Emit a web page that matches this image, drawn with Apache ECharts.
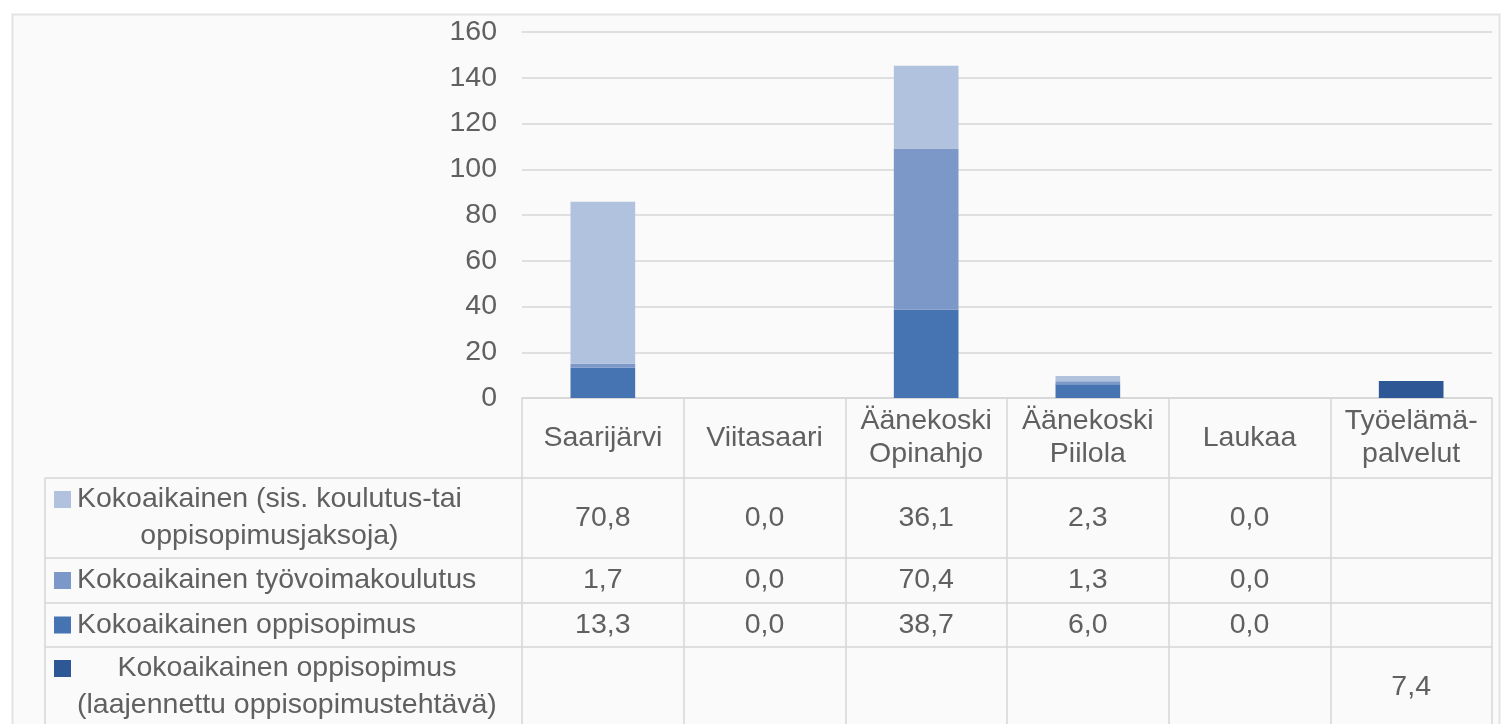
<!DOCTYPE html>
<html>
<head>
<meta charset="utf-8">
<script src="https://cdn.jsdelivr.net/npm/echarts@6/dist/echarts.min.js"></script>
<style>
html,body{margin:0;padding:0;background:#ffffff;}
#chart{width:1504px;height:724px;}
</style>
</head>
<body>
<div id="chart"></div>
<script>
// ---- data ----
const categories = ['Saarijärvi', 'Viitasaari', 'Äänekoski\nOpinahjo', 'Äänekoski\nPiilola', 'Laukaa', 'Työelämä-\npalvelut'];
const rowNames = [
  'Kokoaikainen (sis. koulutus-tai\noppisopimusjaksoja)',
  'Kokoaikainen työvoimakoulutus',
  'Kokoaikainen oppisopimus',
  'Kokoaikainen oppisopimus\n(laajennettu oppisopimustehtävä)'
];
const sisJaksoja   = [70.8, 0.0, 36.1, 2.3, 0.0, null];
const tyovoima     = [1.7, 0.0, 70.4, 1.3, 0.0, null];
const oppisopimus  = [13.3, 0.0, 38.7, 6.0, 0.0, null];
const laajennettu  = [null, null, null, null, null, 7.4];
const yMin = 0, yMax = 160, yStep = 20;

// ---- styling ----
const FONT = '"Liberation Sans", Arial, sans-serif';
const FS = 28.5;
const TXT = '#606060';
const LINE = '#d6d6d6';
const colors = { sis: '#b1c2de', tyo: '#7c98c8', opp: '#4674b2', laaj: '#2e5895' };

const chart = echarts.init(document.getElementById('chart'));

const seriesBase = {
  type: 'bar', stack: 'total', barWidth: '40%', animation: false
};

chart.setOption({
  backgroundColor: '#ffffff',
  animation: false,
  grid: { left: 522, right: 12, top: 32, bottom: 326, containLabel: false },
  xAxis: {
    type: 'category',
    data: categories,
    axisLine: { show: true, lineStyle: { color: LINE, width: 1.5 } },
    axisTick: { show: true, alignWithLabel: false, interval: 0, length: 340, lineStyle: { color: LINE, width: 1.5 } },
    axisLabel: {
      interval: 0, margin: 40, verticalAlign: 'middle',
      fontFamily: FONT, fontSize: FS, color: TXT, lineHeight: 33, align: 'center'
    },
    splitLine: { show: false }
  },
  yAxis: {
    type: 'value', min: yMin, max: yMax, interval: yStep,
    axisLine: { show: false }, axisTick: { show: false },
    axisLabel: { margin: 25, fontFamily: FONT, fontSize: FS, color: TXT },
    splitLine: { lineStyle: { color: LINE, width: 1.5 } }
  },
  series: [
    Object.assign({}, seriesBase, { name: rowNames[2], data: oppisopimus, itemStyle: { color: colors.opp } }),
    Object.assign({}, seriesBase, { name: rowNames[1], data: tyovoima, itemStyle: { color: colors.tyo } }),
    Object.assign({}, seriesBase, { name: rowNames[0], data: sisJaksoja, itemStyle: { color: colors.sis } }),
    Object.assign({}, seriesBase, { name: rowNames[3], data: laajennettu, itemStyle: { color: colors.laaj } })
  ]
});

// ---- data table drawn under the axis ----
const rows = [
  { name: rowNames[0], data: sisJaksoja, color: colors.sis, top: 478, bottom: 558 },
  { name: rowNames[1], data: tyovoima, color: colors.tyo, top: 558, bottom: 603 },
  { name: rowNames[2], data: oppisopimus, color: colors.opp, top: 603, bottom: 647 },
  { name: rowNames[3], data: laajennettu, color: colors.laaj, top: 647, bottom: 729 }
];
const ctx = document.createElement('canvas').getContext('2d');
ctx.font = FS + 'px ' + FONT;
const fmt = v => (v === null || v === undefined) ? '' : v.toFixed(1).replace('.', ',');

const xLeftTable = 45, xRight = 1492, textLeft = 77, legendLH = 37;
const g = [];
// frame background
g.push({ type: 'rect', z: -100, silent: true,
  shape: { x: 12.5, y: 14.5, width: 1487, height: 760 },
  style: { fill: '#fafafa', stroke: '#e3e3e3', lineWidth: 2 } });
// horizontal lines
rows.forEach(r => {
  g.push({ type: 'line', z: 5, silent: true,
    shape: { x1: xLeftTable, y1: r.top, x2: xRight, y2: r.top },
    style: { stroke: LINE, lineWidth: 1.5 } });
});
// left border of legend column
g.push({ type: 'line', z: 5, silent: true,
  shape: { x1: xLeftTable, y1: 478, x2: xLeftTable, y2: 730 },
  style: { stroke: LINE, lineWidth: 1.5 } });

rows.forEach(r => {
  const lines = r.name.split('\n');
  const w = Math.max.apply(null, lines.map(l => ctx.measureText(l).width));
  const cy = (r.top + r.bottom) / 2 + (r.bottom > 700 ? -1 : 0);
  const firstLineY = cy - (lines.length - 1) * legendLH / 2;
  g.push({ type: 'rect', z: 6, silent: true,
    shape: { x: 54, y: firstLineY - 8.5, width: 17, height: 17 },
    style: { fill: r.color } });
  g.push({ type: 'text', z: 6, silent: true,
    x: textLeft + w / 2, y: cy,
    style: { text: r.name, fill: TXT, font: FS + 'px ' + FONT, align: 'center', verticalAlign: 'middle', lineHeight: legendLH } });
  r.data.forEach((v, i) => {
    const px = chart.convertToPixel({ xAxisIndex: 0 }, i);
    g.push({ type: 'text', z: 6, silent: true,
      x: px, y: cy,
      style: { text: fmt(v), fill: TXT, font: FS + 'px ' + FONT, align: 'center', verticalAlign: 'middle' } });
  });
});

chart.setOption({ graphic: g });
</script>
</body>
</html>
